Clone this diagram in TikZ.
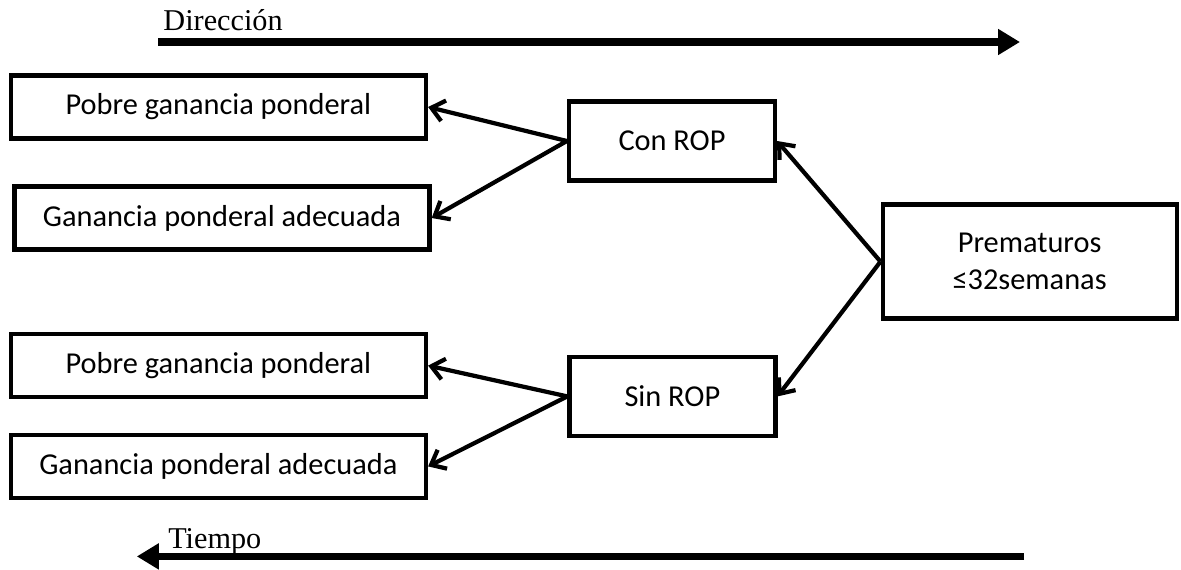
\documentclass[tikz,border=0pt]{standalone}
\usepackage{fontspec}
\setmainfont{Carlito}
\newfontfamily\serifa{Liberation Serif}
\usetikzlibrary{arrows.meta}

\begin{document}
\begin{tikzpicture}[
    % Estilos de cajas, flechas y ejes
    caja/.style={draw, line width=3pt, minimum width=10.38cm, minimum height=1.58cm, inner sep=0pt, font=\fontsize{21.6}{26.5}\selectfont},
    grupo/.style={caja, minimum width=5.15cm, minimum height=1.98cm},
    origen/.style={caja, minimum width=7.35cm, minimum height=2.85cm, align=center},
    flecha/.style={line width=3pt, -{Straight Barb[length=9pt, width=15pt]}},
    eje/.style={line width=5.4pt, -{Triangle[length=0.55cm, width=0.62cm]}},
    rotulo/.style={font=\serifa\fontsize{21.5}{25}\selectfont, anchor=base west, inner sep=0pt}
]
\useasboundingbox (0,0) rectangle (29.525,-14.225);

% ---------------------------------------------------------
% 1. EJES (Dirección y Tiempo)
% ---------------------------------------------------------
\coordinate (dirIni) at (3.95, -1.05);
\coordinate (dirFin) at (25.5, -1.05);
\draw[eje] (dirIni) -- (dirFin);
\node[rotulo] (direccion) at (4.08, -0.75) {Dirección};

\coordinate (tiempoIni) at (25.6, -13.91);
\coordinate (tiempoFin) at (3.42, -13.91);
\draw[eje] (tiempoIni) -- (tiempoFin);
\node[rotulo] (tiempo) at (4.2, -13.7) {Tiempo};

% ---------------------------------------------------------
% 2. CAJAS (Nodos)
% ---------------------------------------------------------
\node[origen] (prem) at (25.74, -6.54) {Prematuros\\≤32semanas};

\node[grupo] (conROP) at (16.8, -3.525) {Con ROP};
\node[grupo] (sinROP) at (16.81, -9.91) {Sin ROP};

\node[caja] (pobreCon) at (5.46, -2.675) {Pobre ganancia ponderal};
\node[caja] (adecCon) at (5.55, -5.45) {Ganancia ponderal adecuada};

\node[caja] (pobreSin) at (5.46, -9.14) {Pobre ganancia ponderal};
\node[caja] (adecSin) at (5.46, -11.66) {Ganancia ponderal adecuada};

% ---------------------------------------------------------
% 3. FLECHAS (Conexiones)
% ---------------------------------------------------------
\draw[flecha] (prem.west) -- (conROP.east);
\draw[flecha] (prem.west) -- (sinROP.east);

\draw[flecha] (conROP.west) -- (pobreCon.east);
\draw[flecha] (conROP.west) -- (adecCon.east);

\draw[flecha] (sinROP.west) -- (pobreSin.east);
\draw[flecha] (sinROP.west) -- (adecSin.east);

\end{tikzpicture}
\end{document}
